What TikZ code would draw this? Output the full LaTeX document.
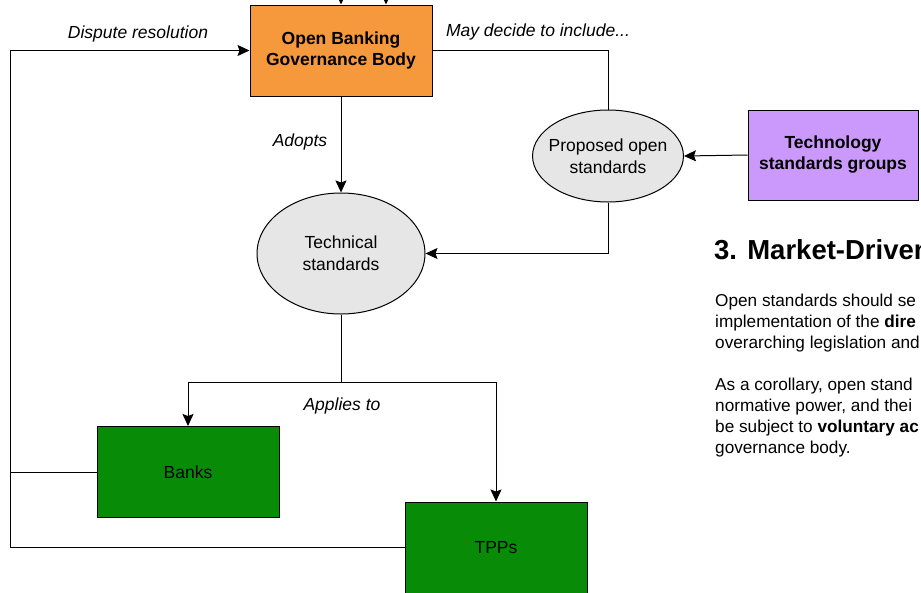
\documentclass[tikz,border=0pt]{standalone}
\usepackage{fontspec}
\setmainfont{Liberation Sans}
\usetikzlibrary{arrows.meta,shapes.geometric}
\definecolor{obOrange}{RGB}{246,152,60}
\definecolor{techPurple}{RGB}{203,153,252}
\definecolor{partyGreen}{RGB}{8,140,8}
\definecolor{stdGrey}{RGB}{230,230,230}
\tikzset{
  box/.style={draw, line width=1pt, rectangle, minimum width=182pt, minimum height=91pt, align=center, font=\fontsize{17.5}{21}\selectfont},
  blob/.style={draw, line width=1pt, ellipse, fill=stdGrey, inner sep=0pt, align=center, font=\fontsize{17.5}{22}\selectfont},
  lbl/.style={font=\fontsize{17.5}{21}\selectfont\itshape},
  link/.style={line width=1pt},
  arr/.style={line width=1pt, -{Stealth[length=12pt,width=11pt,inset=2pt]}}
}
\begin{document}
\begin{tikzpicture}[x=1pt,y=-1pt]
            \useasboundingbox (0,0) rectangle (921,592);
            \clip (0,0) rectangle (921,592);
            % governance body and its inputs
            \node[box, fill=obOrange, font=\fontsize{17.5}{21}\selectfont\bfseries] (ob) at (341,50.5) {Open Banking\\Governance Body};
            \node[box, fill=techPurple, minimum width=170pt, minimum height=90pt, font=\fontsize{17.5}{21}\selectfont\bfseries] (techgroups) at (833,155) {Technology\\standards groups};
            \node[blob, inner xsep=-6pt, minimum height=92pt] (proposed) at (608,156) {Proposed open\\standards};
            \node[blob, minimum width=168pt, minimum height=121pt] (techstd) at (341,253.5) {Technical\\standards};
            % parties
            \node[box, fill=partyGreen] (banks) at (188,472) {Banks};
            \node[box, fill=partyGreen] (tpps) at (496,547.5) {TPPs};
            \coordinate (inA) at (341,-30);
            \coordinate (inB) at (386,-30);
            \coordinate (bus) at (10,547.5);
            \coordinate (split) at (341,382);
            % connectors
            \draw[arr] (inA) -- (inA |- ob.north);
            \draw[arr] (inB) -- (inB |- ob.north);
            \draw[arr] (tpps.west) -- (bus) |- (ob.west);
            \draw[link] (banks.west) -- (banks.west -| bus);
            \draw[link] (ob.east) -| (proposed.north);
            \draw[arr] (techgroups.west) -- (proposed.east);
            \draw[arr] (proposed.south) |- (techstd.east);
            \draw[arr] (ob.south) -- (techstd.north);
            \draw[link] (techstd.south) -- (split);
            \draw[arr] (split) -| (banks.north);
            \draw[arr] (split) -| (tpps.north);
            % labels
            \node[lbl] (disputelbl) at (138,34) {Dispute resolution};
            \node[lbl] (includelbl) at (538,32) {May decide to include...};
            \node[lbl] (adoptslbl) at (300,142) {Adopts};
            \node[lbl] (applieslbl) at (342,406) {Applies to};
            % side text
            \node[anchor=west, inner sep=0pt, font=\fontsize{27.5}{32}\selectfont\bfseries] (heading) at (714,250) {3. Market-Driven};
            \node[anchor=west, inner sep=0pt, align=left, font=\fontsize{17.2}{21}\selectfont] (parone) at (715,323) {Open standards should se\\implementation of the \textbf{dire}\\overarching legislation and};
            \node[anchor=west, inner sep=0pt, align=left, font=\fontsize{17.2}{21}\selectfont] (partwo) at (715,417.5) {As a corollary, open stand\\normative power, and thei\\be subject to \textbf{voluntary ac}\\governance body.};
          \end{tikzpicture}
\end{document}
